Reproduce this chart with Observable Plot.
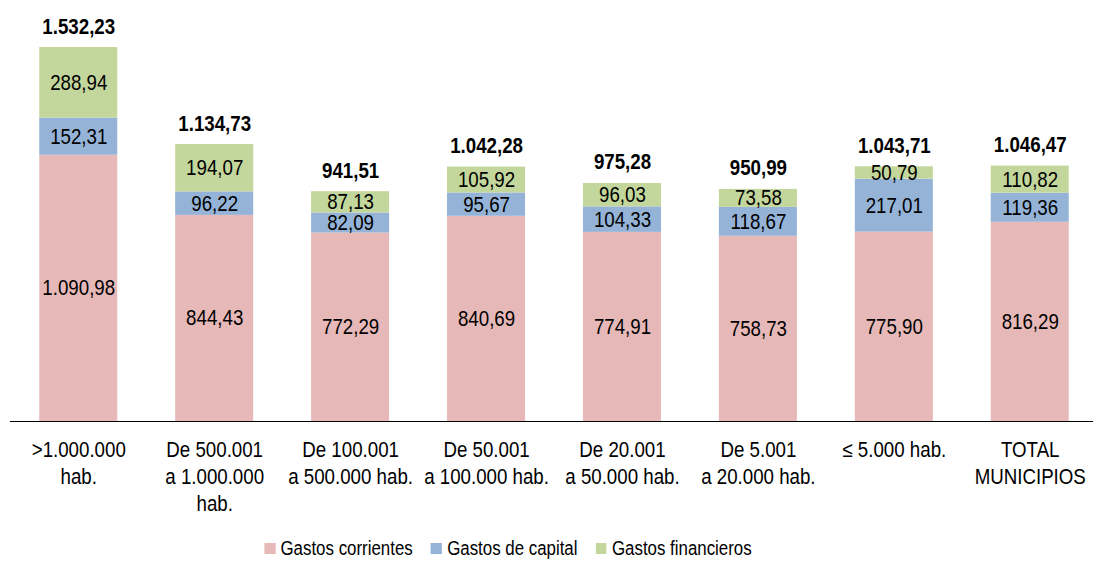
<!DOCTYPE html>
<html>
<head>
<meta charset="utf-8">
<script src="https://cdn.jsdelivr.net/npm/d3@7"></script>
<script src="https://cdn.jsdelivr.net/npm/@observablehq/plot@0.6"></script>
<style>
  html, body { margin: 0; padding: 0; background: #fff; }
  body { width: 1093px; height: 566px; overflow: hidden; position: relative; font-family: "Liberation Sans", Arial, sans-serif; }
  #legendWrap { position: absolute; left: 0; top: 537px; width: 1016px; display: flex; justify-content: center; transform: scaleX(0.87); transform-origin: 508px 0; }
  #legend { display: flex; font-size: 19.4px; color: #000; white-space: nowrap; }
  #legend .item { display: flex; align-items: center; margin: 0 10.5px; }
  #legend .sw { width: 12.6px; height: 11px; margin-right: 6px; display: inline-block; }
</style>
</head>
<body>
<div id="chart"></div>
<div id="legendWrap"><div id="legend"></div></div>
<script>
const categories = [">1.000.000\nhab.", "De 500.001\na 1.000.000\nhab.", "De 100.001\na 500.000 hab.", "De 50.001\na 100.000 hab.", "De 20.001\na 50.000 hab.", "De 5.001\na 20.000 hab.", "≤ 5.000 hab.", "TOTAL\nMUNICIPIOS"];
const seriesNames = ["Gastos corrientes", "Gastos de capital", "Gastos financieros"];
const seriesColors = ["#e6b9b8", "#95b3d7", "#c3d69b"];
const gastosCorrientes = [1090.98, 844.43, 772.29, 840.69, 774.91, 758.73, 775.90, 816.29];
const gastosCapital = [152.31, 96.22, 82.09, 95.67, 104.33, 118.67, 217.01, 119.36];
const gastosFinancieros = [288.94, 194.07, 87.13, 105.92, 96.03, 73.58, 50.79, 110.82];
const totales = [1532.23, 1134.73, 941.51, 1042.28, 975.28, 950.99, 1043.71, 1046.47];

const fmt = d3.formatLocale({decimal: ",", thousands: ".", grouping: [3], currency: ["", "€"]}).format(",.2f");
const seriesValues = [gastosCorrientes, gastosCapital, gastosFinancieros];
const rows = [];
seriesNames.forEach((s, si) => categories.forEach((c, ci) => rows.push({cat: c, series: s, value: seriesValues[si][ci]})));
const totalRows = categories.map((c, i) => ({cat: c, total: totales[i]}));

const chart = Plot.plot({
  width: 1093,
  height: 530,
  marginLeft: 10,
  marginRight: 0,
  marginTop: 0,
  marginBottom: 0,
  style: {fontFamily: '"Liberation Sans", Arial, sans-serif', background: "#fff", color: "#000"},
  x: {domain: categories, range: [10.3, 1097.7], paddingInner: 0.426, paddingOuter: 0.213, round: false, axis: null},
  y: {domain: [0, 1600], range: [421, 30.5], axis: null},
  color: {domain: seriesNames, range: seriesColors},
  marks: [
    Plot.barY(rows, {x: "cat", y: "value", fill: "series"}),
    Plot.text(rows, Plot.stackY({x: "cat", y: "value", z: "series", text: d => fmt(d.value), fontSize: 21.5, fill: "#000"})),
    Plot.text(totalRows, {x: "cat", y: "total", text: d => fmt(d.total), fontSize: 21.5, fontWeight: "bold", lineAnchor: "bottom", dy: -14, fill: "#000"}),
    Plot.ruleY([0], {stroke: "#000", strokeWidth: 1.2}),
    Plot.text(categories, {x: d => d, y: 0, text: d => d, fontSize: 21.5, lineAnchor: "top", dy: 17, lineHeight: 1.24, fill: "#000"})
  ]
});
document.getElementById("chart").appendChild(chart);

// condense text horizontally (narrow typeface look)
chart.querySelectorAll("text").forEach(t => {
  const tr = t.getAttribute("transform") || "";
  t.setAttribute("transform", `${tr} scale(0.87,1)`);
});

const legend = document.getElementById("legend");
seriesNames.forEach((s, i) => {
  const item = document.createElement("div");
  item.className = "item";
  const sw = document.createElement("span");
  sw.className = "sw";
  sw.style.background = seriesColors[i];
  const t = document.createElement("span");
  t.textContent = s;
  item.appendChild(sw);
  item.appendChild(t);
  legend.appendChild(item);
});
</script>
</body>
</html>
